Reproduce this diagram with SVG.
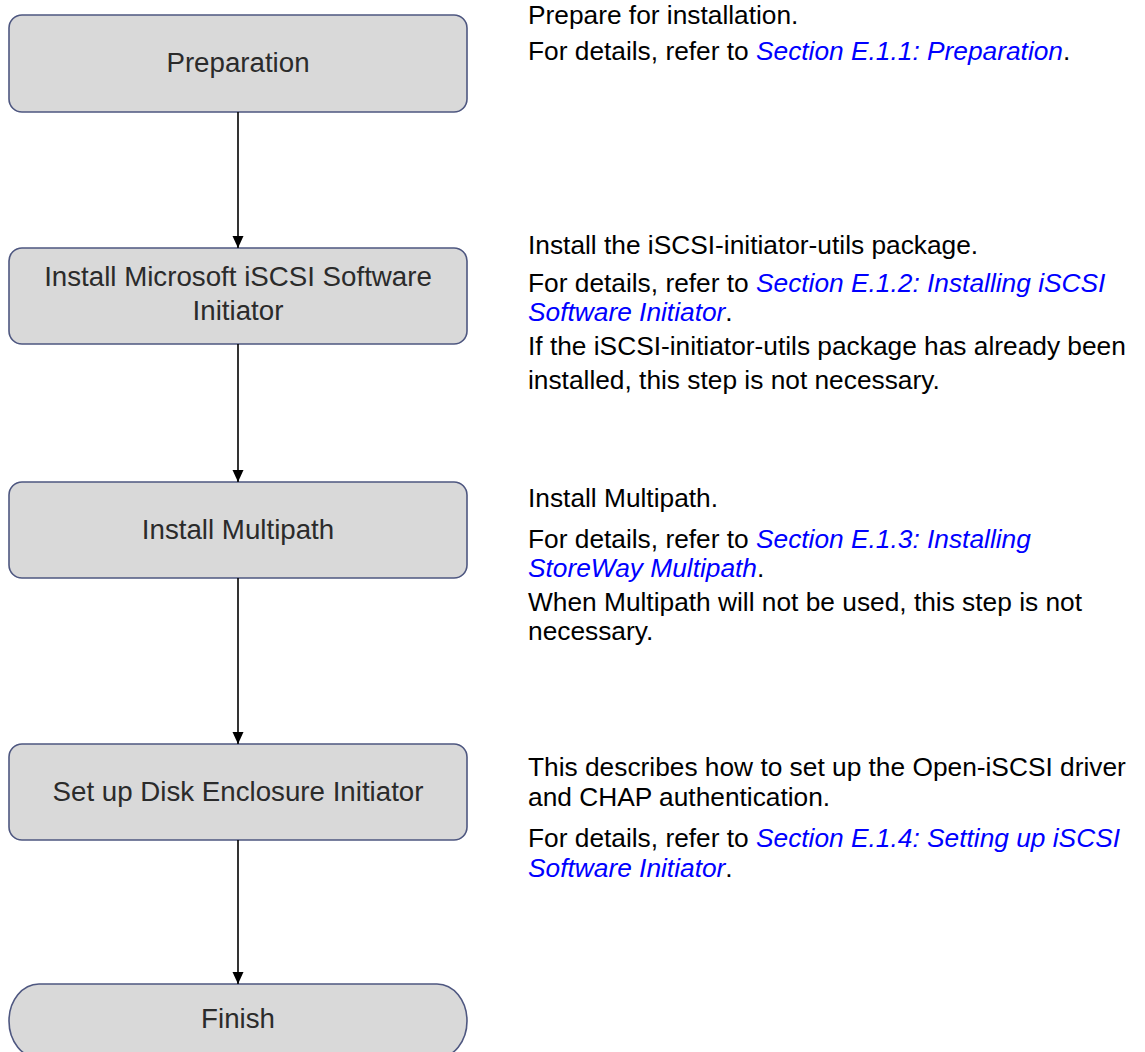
<svg xmlns="http://www.w3.org/2000/svg" width="1145" height="1052" viewBox="0 0 1145 1052">
  <style>
    .box { fill: #d9d9d9; stroke: #4e5780; stroke-width: 1.6; }
    .lbl { font-family: "Liberation Sans", Arial, sans-serif; font-size: 27.7px; fill: #2b2b2b; text-anchor: middle; }
    .desc { font-family: "Liberation Sans", Arial, sans-serif; font-size: 26.3px; fill: #000000; }
    .link { fill: #0000ff; font-style: italic; }
    .conn { stroke: #000000; stroke-width: 1.6; fill: none; }
  </style>
  <defs>
    <marker id="arrow" viewBox="0 0 12 12" refX="12" refY="6" markerWidth="12" markerHeight="12" markerUnits="userSpaceOnUse" orient="auto">
      <path d="M0,0.5 L12,6 L0,11.5 Z" fill="#000000"/>
    </marker>
  </defs>

  <rect width="1145" height="1052" fill="#ffffff"/>

  <!-- flow steps -->
  <g id="node-preparation">
    <rect class="box" x="9" y="15" width="458" height="97" rx="13" ry="13"/>
    <text class="lbl" x="238" y="72">Preparation</text>
  </g>
  <g id="node-install-initiator">
    <rect class="box" x="9" y="248" width="458" height="96" rx="13" ry="13"/>
    <text class="lbl" x="238" y="286">Install Microsoft iSCSI Software</text>
    <text class="lbl" x="238" y="320">Initiator</text>
  </g>
  <g id="node-install-multipath">
    <rect class="box" x="9" y="482" width="458" height="96" rx="13" ry="13"/>
    <text class="lbl" x="238" y="539">Install Multipath</text>
  </g>
  <g id="node-setup-initiator">
    <rect class="box" x="9" y="744" width="458" height="96" rx="13" ry="13"/>
    <text class="lbl" x="238" y="801">Set up Disk Enclosure Initiator</text>
  </g>
  <g id="node-finish">
    <rect class="box" x="9" y="984" width="458" height="74" rx="30" ry="37"/>
    <text class="lbl" x="238" y="1028">Finish</text>
  </g>

  <!-- connectors -->
  <g id="connectors">
    <line class="conn" x1="238" y1="112" x2="238" y2="248" marker-end="url(#arrow)"/>
    <line class="conn" x1="238" y1="344" x2="238" y2="482" marker-end="url(#arrow)"/>
    <line class="conn" x1="238" y1="578" x2="238" y2="744" marker-end="url(#arrow)"/>
    <line class="conn" x1="238" y1="840" x2="238" y2="984" marker-end="url(#arrow)"/>
  </g>

  <!-- step descriptions -->
  <g id="desc-preparation" class="desc">
    <text x="528" y="23.5">Prepare for installation.</text>
    <text x="528" y="60">For details, refer to <tspan class="link">Section E.1.1: Preparation</tspan>.</text>
  </g>
  <g id="desc-install-initiator" class="desc">
    <text x="528" y="254">Install the iSCSI-initiator-utils package.</text>
    <text x="528" y="291.5">For details, refer to <tspan class="link">Section E.1.2: Installing iSCSI</tspan></text>
    <text x="528" y="320.5"><tspan class="link">Software Initiator</tspan>.</text>
    <text x="528" y="355">If the iSCSI-initiator-utils package has already been</text>
    <text x="528" y="389">installed, this step is not necessary.</text>
  </g>
  <g id="desc-install-multipath" class="desc">
    <text x="528" y="507">Install Multipath.</text>
    <text x="528" y="548">For details, refer to <tspan class="link">Section E.1.3: Installing</tspan></text>
    <text x="528" y="577"><tspan class="link">StoreWay Multipath</tspan>.</text>
    <text x="528" y="611">When Multipath will not be used, this step is not</text>
    <text x="528" y="639.5">necessary.</text>
  </g>
  <g id="desc-setup-initiator" class="desc">
    <text x="528" y="775.5">This describes how to set up the Open-iSCSI driver</text>
    <text x="528" y="806">and CHAP authentication.</text>
    <text x="528" y="847">For details, refer to <tspan class="link">Section E.1.4: Setting up iSCSI</tspan></text>
    <text x="528" y="876.5"><tspan class="link">Software Initiator</tspan>.</text>
  </g>
</svg>
